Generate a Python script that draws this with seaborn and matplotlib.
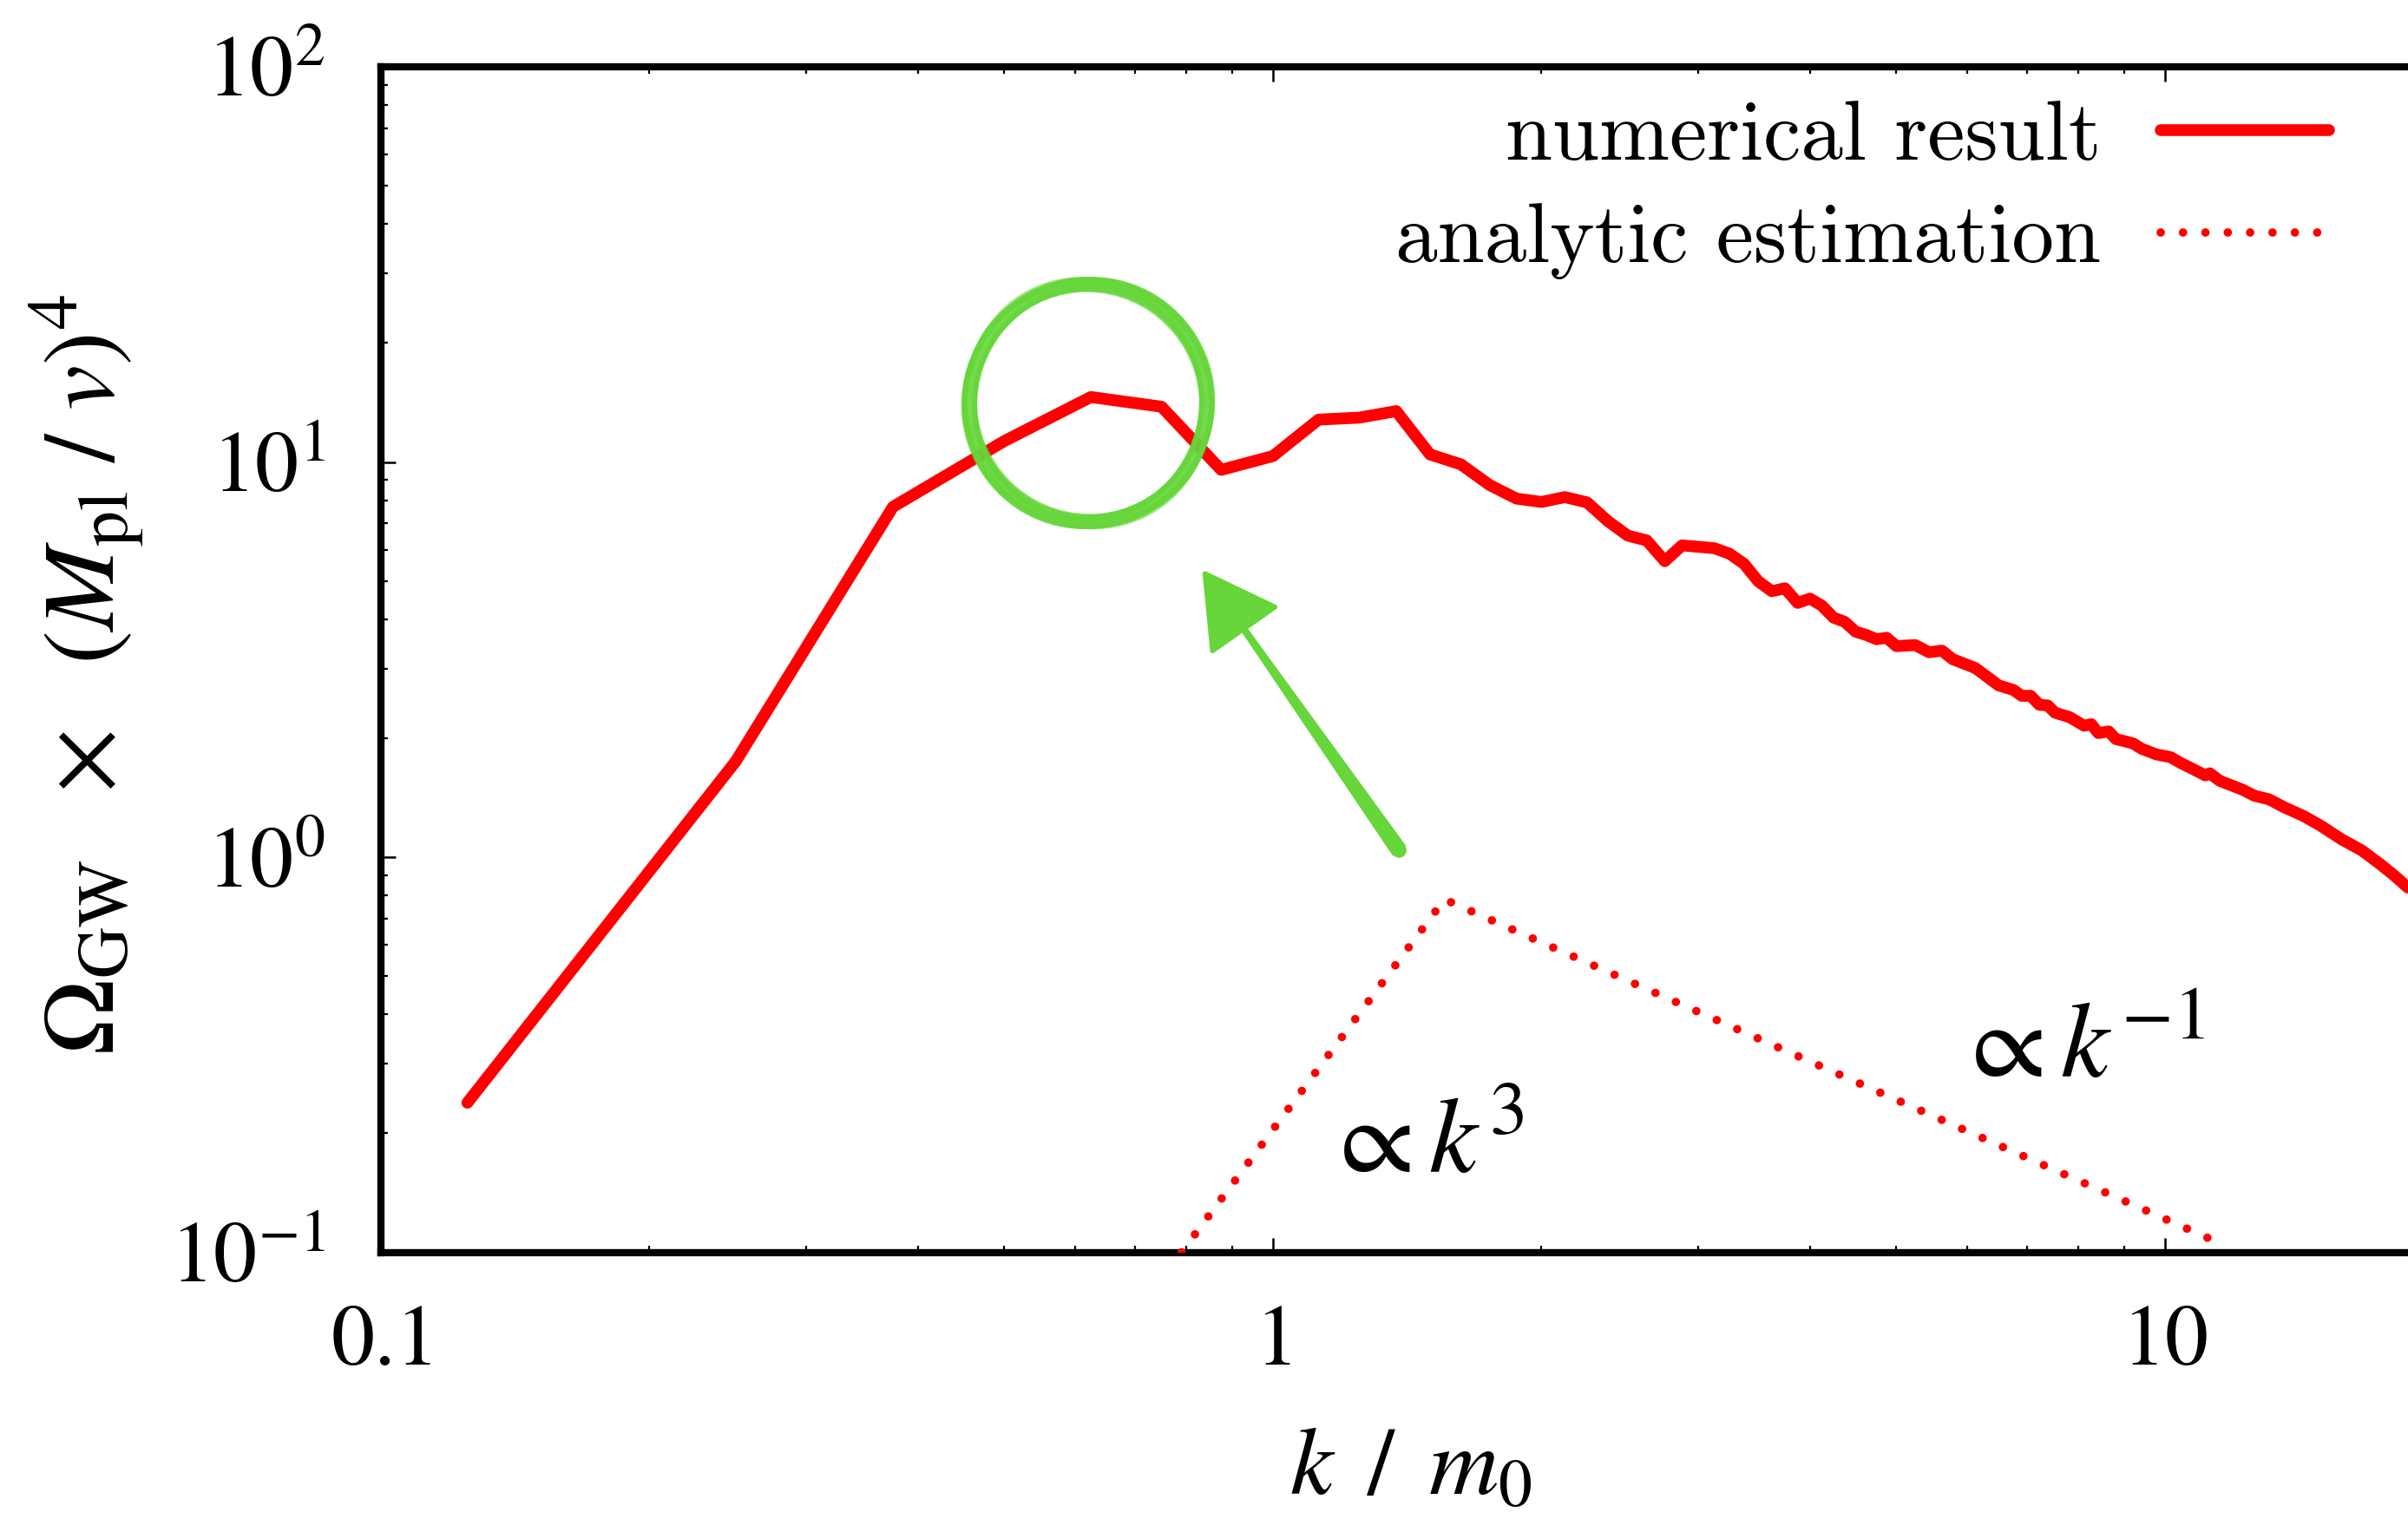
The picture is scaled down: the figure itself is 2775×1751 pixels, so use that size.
import numpy as np
import pandas as pd
import matplotlib
matplotlib.use("Agg")
import matplotlib.pyplot as plt
import seaborn as sns
from matplotlib.patches import Ellipse, Polygon
from matplotlib.transforms import ScaledTranslation, IdentityTransform

# ---------------- data ----------------
k_numerical = [0.125, 0.25, 0.375, 0.5, 0.625, 0.75, 0.875, 1.0, 1.125, 1.25,
               1.375, 1.5, 1.625, 1.75, 1.875, 2.0, 2.125, 2.25, 2.375, 2.5,
               2.625, 2.75, 2.875, 3.0, 3.125, 3.25, 3.375, 3.5, 3.625, 3.75,
               3.875, 4.0, 4.125, 4.25, 4.375, 4.5, 4.625, 4.75, 4.875, 5.0,
               5.25, 5.44, 5.625, 5.78, 5.95, 6.13, 6.32, 6.51, 6.76, 6.91,
               7.07, 7.23, 7.39, 7.53, 7.82, 8.12, 8.27, 8.42, 8.65, 8.81,
               9.21, 9.42, 9.78, 10.15, 10.42, 10.70, 11.10, 11.23, 11.52, 12.23,
               12.60, 13.09, 13.58, 14.31, 14.96, 15.77, 16.62, 17.38, 18.04, 18.73]
omega_numerical = [0.239, 1.75, 7.7, 11.3, 14.6, 13.8, 9.55, 10.35, 12.8, 12.95,
                   13.45, 10.45, 9.86, 8.74, 8.08, 7.92, 8.15, 7.9, 7.08, 6.51,
                   6.33, 5.61, 6.15, 6.1, 6.05, 5.86, 5.52, 4.99, 4.71, 4.79,
                   4.40, 4.51, 4.33, 4.04, 3.94, 3.72, 3.65, 3.56, 3.59, 3.42,
                   3.44, 3.30, 3.33, 3.17, 3.09, 3.01, 2.86, 2.72, 2.65, 2.56,
                   2.56, 2.43, 2.42, 2.32, 2.26, 2.15, 2.17, 2.06, 2.08, 1.99,
                   1.94, 1.88, 1.82, 1.79, 1.73, 1.68, 1.61, 1.63, 1.56, 1.48,
                   1.43, 1.40, 1.34, 1.27, 1.20, 1.11, 1.04, 0.965, 0.902, 0.837]

k_analytic = [0.79, 1.557, 11.68]
omega_analytic = [0.1, 0.782, 0.104]

series_labels = ["numerical result", "analytic estimation"]
x_ticks = [0.1, 1, 10]
x_tick_labels = [r"$0.1$", r"$1$", r"$10$"]
y_ticks = [0.1, 1, 10, 100]
y_tick_labels = [r"$10^{-1}$", r"$10^{0}$", r"$10^{1}$", r"$10^{2}$"]
x_label = r"$k\ \,/\ \,m_{0}$"
y_label = r"$\Omega_{\rm GW}\ \ \times\ \ (M_{\rm pl}\ /\ v)^{4}$"
slope_texts = [r"$\propto k^{3}$", r"$\propto k^{-1}$"]
slope_text_pos = [(1.139, 0.159), (5.82, 0.277)]
circle_center = (0.6207, 14.1)
arrow_tail = (1.385, 1.04)
arrow_tip = (0.839, 5.22)

# ---------------- style ----------------
sns.set_theme(style="ticks")
plt.rcParams["font.family"] = ["STIXGeneral", "DejaVu Serif"]
plt.rcParams["mathtext.fontset"] = "stix"
plt.rcParams["text.color"] = "black"
plt.rcParams["axes.labelcolor"] = "black"
plt.rcParams["xtick.color"] = "black"
plt.rcParams["ytick.color"] = "black"

RED = "#ff0000"
GREEN = "#66d63a"
SOLID_LW = 9.8
DOT_LW = 7.0
DOT_STYLE = (0, (0.001, 2.65))

fig = plt.figure(figsize=(27.75, 17.51), dpi=100)
fig.patch.set_facecolor("white")
ax = fig.add_axes([0.1582, 0.1756, 0.8418, 0.7804])
ax.set_facecolor("white")

df_num = pd.DataFrame({"k": k_numerical, "omega": omega_numerical})
df_ana = pd.DataFrame({"k": k_analytic, "omega": omega_analytic})

sns.lineplot(data=df_num, x="k", y="omega", ax=ax, color=RED, linewidth=SOLID_LW,
             estimator=None, sort=False, label=series_labels[0],
             solid_capstyle="round", solid_joinstyle="round", zorder=3)
sns.lineplot(data=df_ana, x="k", y="omega", ax=ax, color=RED, linewidth=DOT_LW,
             estimator=None, sort=False, label=series_labels[1],
             linestyle=DOT_STYLE, dash_capstyle="round", zorder=3)
num_line, ana_line = ax.lines[0], ax.lines[1]
num_line.set_linewidth(SOLID_LW)
ana_line.set_linewidth(DOT_LW)
ana_line.set_linestyle(DOT_STYLE)
ana_line.set_dash_capstyle("round")

ax.set_xscale("log")
ax.set_yscale("log")
ax.set_xlim(0.1, 18.73)
ax.set_ylim(0.1, 100)

ax.set_xticks(x_ticks, labels=x_tick_labels)
ax.set_yticks(y_ticks, labels=y_tick_labels)
ax.xaxis.set_minor_locator(matplotlib.ticker.LogLocator(base=10, subs=np.arange(2, 10), numticks=20))
ax.yaxis.set_minor_locator(matplotlib.ticker.LogLocator(base=10, subs=np.arange(2, 10), numticks=20))
ax.xaxis.set_minor_formatter(matplotlib.ticker.NullFormatter())
ax.yaxis.set_minor_formatter(matplotlib.ticker.NullFormatter())

ax.tick_params(which="both", direction="in", top=True, right=False,
               color="black", labelcolor="black")
ax.tick_params(which="major", length=12, width=1.8)
ax.tick_params(which="minor", length=6, width=1.6)
ax.tick_params(axis="x", which="major", pad=44, labelsize=72)
ax.tick_params(axis="y", which="major", pad=46, labelsize=72)

for side in ["left", "bottom", "top"]:
    ax.spines[side].set_linewidth(6)
    ax.spines[side].set_color("black")
    ax.spines[side].set_capstyle("projecting")
ax.spines["right"].set_visible(False)

ax.set_xlabel(x_label, fontsize=80, va="baseline", ha="center", color="black")
ax.xaxis.set_label_coords(0.508, -0.2038)
ax.set_ylabel(y_label, fontsize=84, va="center", ha="center", color="black")
ax.yaxis.set_label_coords(-0.1451, 0.487)

for txt, (tx, ty) in zip(slope_texts, slope_text_pos):
    ax.text(tx, ty, txt, fontsize=90, ha="left", va="baseline", color="black")

leg = ax.legend(loc="upper right", bbox_to_anchor=(2684 / 2775, 1 - 116 / 1751),
                bbox_transform=fig.transFigure, markerfirst=False, frameon=False,
                prop={"family": "cmr10", "size": 70}, handlelength=2.0,
                handletextpad=0.70, labelspacing=0.32, borderpad=0, borderaxespad=0)
for t in leg.get_texts():
    t.set_color("black")
leg_lines = leg.get_lines()
leg_lines[0].set_linewidth(SOLID_LW)
leg_lines[0].set_solid_capstyle("round")
leg_lines[1].set_linewidth(DOT_LW)
leg_lines[1].set_linestyle(DOT_STYLE)
leg_lines[1].set_dash_capstyle("round")

# ---------------- green hand-drawn highlight ----------------
circ_trans = fig.dpi_scale_trans + ScaledTranslation(circle_center[0], circle_center[1], ax.transData)
strokes = [(2.74, 2.74, 0, 12, 0.9), (2.86, 2.80, 10, 4, 0.8),
           (2.62, 2.70, -15, 4, 0.8), (2.90, 2.84, 30, 3, 0.7),
           (2.58, 2.62, 50, 3, 0.7), (2.80, 2.90, -35, 3, 0.7),
           (2.68, 2.58, 70, 2.5, 0.65), (2.92, 2.78, -60, 2.0, 0.6)]
for (w, hgt, ang, lw, al) in strokes:
    ax.add_patch(Ellipse((0, 0), w, hgt, angle=ang, transform=circ_trans, fill=False,
                         ec=GREEN, lw=lw, alpha=al, zorder=5, clip_on=False))

# tapered brush-like arrow built in display space from data anchor points
p_tail = ax.transData.transform(arrow_tail)
p_tip = ax.transData.transform(arrow_tip)
d = p_tip - p_tail
u = d / np.hypot(*d)
nrm = np.array([-u[1], u[0]])
head_base = p_tip - u * 78
shaft = np.array([p_tail + nrm * 8.5, head_base + nrm * 3.0,
                  head_base - nrm * 3.0, p_tail - nrm * 8.5])
ax.add_patch(Polygon(shaft, closed=True, transform=IdentityTransform(),
                     fc=GREEN, ec=GREEN, lw=1.5, joinstyle="round", zorder=5))
head = np.array([p_tip, head_base + nrm * 44, head_base - nrm * 44])
ax.add_patch(Polygon(head, closed=True, transform=IdentityTransform(),
                     fc=GREEN, ec=GREEN, lw=4, joinstyle="round", zorder=5))
ax.add_patch(Ellipse(tuple(p_tail), 17, 17, transform=IdentityTransform(),
                     fc=GREEN, ec="none", zorder=5))

fig.savefig("out.png", dpi=100, facecolor="white")
